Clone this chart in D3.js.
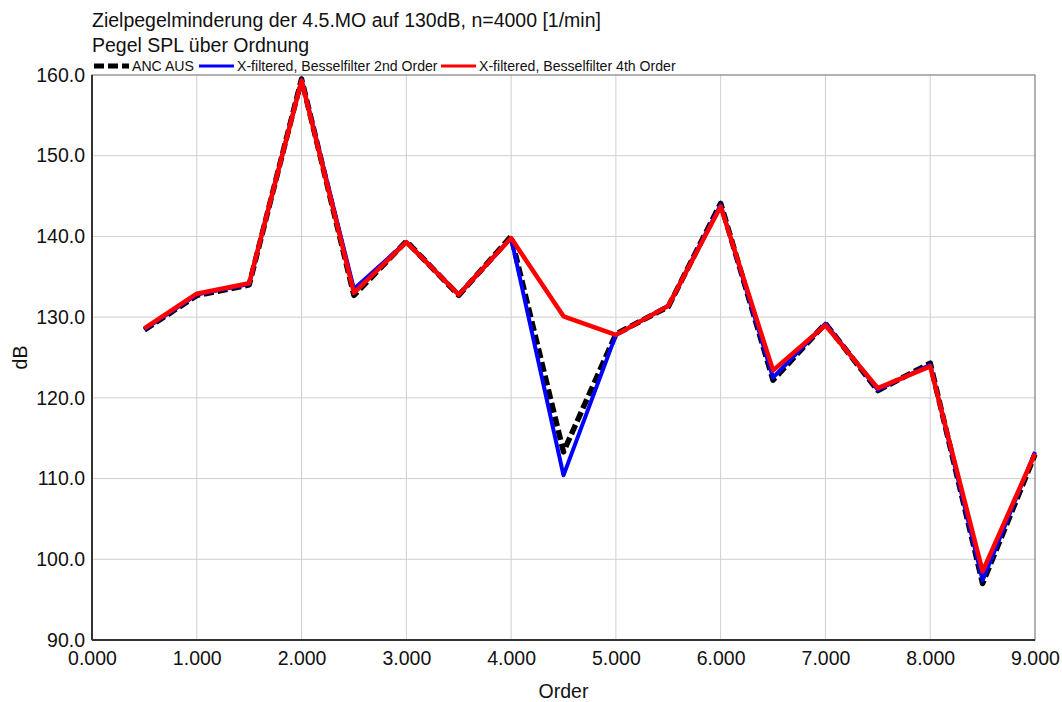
<!DOCTYPE html>
<html>
<head>
<meta charset="utf-8">
<script src="https://cdn.jsdelivr.net/npm/d3@7"></script>
<style>
body { margin: 0; background: #fff; }
svg text { font-family: "Liberation Sans", Arial, sans-serif; fill: #111; }
</style>
</head>
<body>
<svg width="1062" height="702"></svg>
<script>
var orders = [0.5, 1, 1.5, 2, 2.5, 3, 3.5, 4, 4.5, 5, 5.5, 6, 6.5, 7, 7.5, 8, 8.5, 9];
var ancAus = [128.4, 132.7, 134.0, 159.5, 132.7, 139.4, 132.7, 140.0, 113.3, 127.9, 131.3, 144.1, 122.2, 129.2, 120.9, 124.3, 97.0, 113.0];
var bessel2 = [128.5, 132.8, 134.1, 159.4, 133.5, 139.3, 132.8, 139.8, 110.4, 127.8, 131.4, 143.9, 122.5, 129.2, 121.0, 124.1, 97.4, 113.3];
var bessel4 = [128.6, 132.9, 134.2, 159.3, 133.0, 139.3, 132.8, 139.8, 130.1, 127.8, 131.4, 143.7, 123.4, 129.0, 121.2, 123.9, 98.5, 113.1];
var xTicks = [0, 1, 2, 3, 4, 5, 6, 7, 8, 9];
var yTicks = [90, 100, 110, 120, 130, 140, 150, 160];

var svg = d3.select("svg");
var pLeft = 92, pRight = 1035, pTop = 75, pBottom = 640;
var bigFont = 19.5, legFont = 14.1;

var x = d3.scaleLinear().domain([0, 9]).range([pLeft, pRight]);
var y = d3.scaleLinear().domain([90, 160]).range([pBottom, pTop]);

// grid
svg.append("g").selectAll("line")
	.data(xTicks.slice(1, -1))
	.enter().append("line")
		.attr("x1", function(d) { return x(d); })
		.attr("x2", function(d) { return x(d); })
		.attr("y1", pTop).attr("y2", pBottom)
		.attr("stroke", "#cfcfcf").attr("stroke-width", 1);
svg.append("g").selectAll("line")
	.data(yTicks.slice(1, -1))
	.enter().append("line")
		.attr("x1", pLeft).attr("x2", pRight)
		.attr("y1", function(d) { return y(d); })
		.attr("y2", function(d) { return y(d); })
		.attr("stroke", "#cfcfcf").attr("stroke-width", 1);

// frame
svg.append("rect")
	.attr("x", pLeft).attr("y", pTop)
	.attr("width", pRight - pLeft).attr("height", pBottom - pTop)
	.attr("fill", "none").attr("stroke", "#666").attr("stroke-width", 1);
svg.append("line").attr("x1", pLeft).attr("x2", pLeft).attr("y1", pTop).attr("y2", pBottom)
	.attr("stroke", "#333").attr("stroke-width", 2);
svg.append("line").attr("x1", pLeft).attr("x2", pRight).attr("y1", pBottom).attr("y2", pBottom)
	.attr("stroke", "#333").attr("stroke-width", 2);

// axes
var xAxis = svg.append("g")
	.attr("transform", "translate(0," + pBottom + ")")
	.call(d3.axisBottom(x).tickValues(xTicks).tickSize(0).tickPadding(11).tickFormat(d3.format(".3f")));
var yAxis = svg.append("g")
	.attr("transform", "translate(" + pLeft + ",0)")
	.call(d3.axisLeft(y).tickValues(yTicks).tickSize(0).tickPadding(7).tickFormat(d3.format(".1f")));
[xAxis, yAxis].forEach(function(a) {
	a.select(".domain").remove();
	a.selectAll("text").attr("font-size", bigFont).attr("font-family", "Liberation Sans, Arial, sans-serif").attr("fill", "#111");
});
yAxis.selectAll("text").attr("dy", "0.32em");

svg.append("text").attr("x", (pLeft + pRight) / 2).attr("y", 698)
	.attr("text-anchor", "middle").attr("font-size", bigFont).text("Order");
svg.append("text").attr("transform", "translate(27," + ((pTop + pBottom) / 2) + ") rotate(-90)")
	.attr("text-anchor", "middle").attr("font-size", bigFont).text("dB");

// titles
svg.append("text").attr("x", 92).attr("y", 27).attr("font-size", bigFont)
	.text("Zielpegelminderung der 4.5.MO auf 130dB, n=4000 [1/min]");
svg.append("text").attr("x", 92).attr("y", 52).attr("font-size", bigFont)
	.text("Pegel SPL über Ordnung");

// series
var series = [
	{ name: "ANC AUS", values: ancAus, color: "#000", width: 5.5, dash: "10,4" },
	{ name: "X-filtered, Besselfilter 2nd Order", values: bessel2, color: "#0000ff", width: 4, dash: null },
	{ name: "X-filtered, Besselfilter 4th Order", values: bessel4, color: "#ff0000", width: 4.5, dash: null }
];

var line = d3.line()
	.x(function(d) { return x(d[0]); })
	.y(function(d) { return y(d[1]); });

svg.append("g").selectAll("path")
	.data(series)
	.enter().append("path")
		.attr("d", function(s) { return line(orders.map(function(o, i) { return [o, s.values[i]]; })); })
		.attr("fill", "none")
		.attr("stroke", function(s) { return s.color; })
		.attr("stroke-width", function(s) { return s.width; })
		.attr("stroke-dasharray", function(s) { return s.dash; })
		.attr("stroke-linejoin", "round");

// legend
var legX = [94, 199, 441];
var leg = svg.append("g").selectAll("g")
	.data(series)
	.enter().append("g")
		.attr("transform", function(s, i) { return "translate(" + legX[i] + ",66)"; });
leg.append("line")
	.attr("x1", 0).attr("x2", 35).attr("y1", 0).attr("y2", 0)
	.attr("stroke", function(s) { return s.color; })
	.attr("stroke-width", function(s, i) { return i == 0 ? 5 : 3; })
	.attr("stroke-dasharray", function(s) { return s.dash; });
leg.append("text")
	.attr("x", 38)
	.attr("y", 5)
	.attr("font-size", legFont)
	.text(function(s) { return s.name; });
</script>
</body>
</html>
